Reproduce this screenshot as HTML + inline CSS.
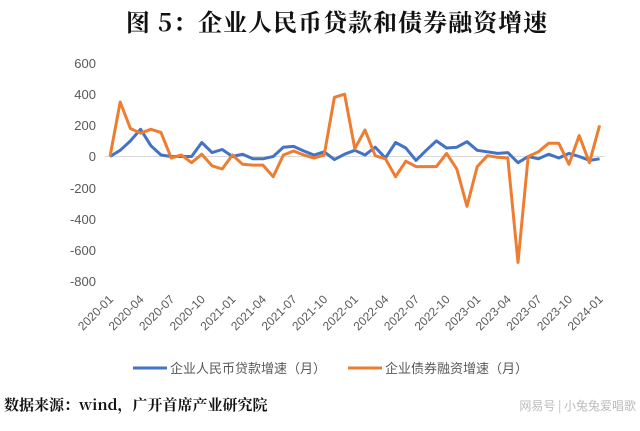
<!DOCTYPE html>
<html><head><meta charset="utf-8"><style>
body{margin:0;background:#fff;width:640px;height:426px;overflow:hidden}
</style></head><body>
<svg width="640" height="426" xmlns="http://www.w3.org/2000/svg">
<text x="337" y="31" text-anchor="middle" font-family="'Noto Serif CJK SC',serif" font-weight="bold" font-size="24" letter-spacing="1" fill="#111">图 5：企业人民币贷款和债券融资增速</text>
<g font-family="'Liberation Sans',sans-serif" font-size="13" fill="#595959" text-anchor="end">
<text x="96" y="68">600</text><text x="96" y="99">400</text><text x="96" y="130">200</text><text x="96" y="161">0</text><text x="96" y="193">-200</text><text x="96" y="224">-400</text><text x="96" y="255">-600</text><text x="96" y="286">-800</text>
</g>
<line x1="105" y1="156.5" x2="605" y2="156.5" stroke="#d9d9d9" stroke-width="1"/>
<polyline fill="none" stroke="#4472c4" stroke-width="3" stroke-linejoin="round" points="110,156.5 120.2,150.3 130.4,140.9 140.6,129.3 150.8,145.6 161,155 171.2,156.5 181.4,156.5 191.6,156.5 201.8,142.5 212,152.6 222.2,149.5 232.4,156.5 242.6,154.2 252.8,158.8 263,158.8 273.2,156.5 283.4,147.2 293.6,146.4 303.8,151 314,155 324.2,151.8 334.4,159.6 344.6,154.2 354.8,150.3 365,155 375.2,147.2 385.4,158 395.6,142.5 405.8,148 416,160.4 426.2,150.3 436.4,140.9 446.6,148 456.8,147.2 467,141.7 477.2,150.3 487.4,151.8 497.6,153.4 507.8,152.6 518,162.7 528.2,156.5 538.4,158.8 548.6,154.2 558.8,158 569,153.4 579.2,156.5 589.4,160.4 599.6,158.8"/>
<polyline fill="none" stroke="#ed7d31" stroke-width="3" stroke-linejoin="round" points="110,156.5 120.2,102 130.4,128.5 140.6,133.2 150.8,129.3 161,132.4 171.2,158 181.4,155 191.6,162.7 201.8,154.2 212,165.8 222.2,169 232.4,155 242.6,164.3 252.8,165.1 263,165.1 273.2,176.7 283.4,155 293.6,151 303.8,155 314,158 324.2,155 334.4,97.3 344.6,94.2 354.8,148.7 365,130 375.2,155.7 385.4,158.8 395.6,176.7 405.8,161.2 416,166.6 426.2,166.6 436.4,166.6 446.6,153.4 456.8,169 467,206.3 477.2,166.6 487.4,155.7 497.6,157.3 507.8,158 518,262.4 528.2,156.5 538.4,151.8 548.6,143.3 558.8,143.3 569,164.3 579.2,135.5 589.4,162.7 599.6,125.4"/>
<g font-family="'Liberation Sans',sans-serif" font-size="12" fill="#595959" text-anchor="end">
<text transform="translate(114,300) rotate(-45)">2020-01</text>
<text transform="translate(144.6,300) rotate(-45)">2020-04</text>
<text transform="translate(175.2,300) rotate(-45)">2020-07</text>
<text transform="translate(205.8,300) rotate(-45)">2020-10</text>
<text transform="translate(236.4,300) rotate(-45)">2021-01</text>
<text transform="translate(267,300) rotate(-45)">2021-04</text>
<text transform="translate(297.6,300) rotate(-45)">2021-07</text>
<text transform="translate(328.2,300) rotate(-45)">2021-10</text>
<text transform="translate(358.8,300) rotate(-45)">2022-01</text>
<text transform="translate(389.4,300) rotate(-45)">2022-04</text>
<text transform="translate(420,300) rotate(-45)">2022-07</text>
<text transform="translate(450.6,300) rotate(-45)">2022-10</text>
<text transform="translate(481.2,300) rotate(-45)">2023-01</text>
<text transform="translate(511.8,300) rotate(-45)">2023-04</text>
<text transform="translate(542.4,300) rotate(-45)">2023-07</text>
<text transform="translate(573,300) rotate(-45)">2023-10</text>
<text transform="translate(603.6,300) rotate(-45)">2024-01</text>
</g>
<line x1="133" y1="368" x2="167" y2="368" stroke="#4472c4" stroke-width="3"/>
<line x1="348" y1="368" x2="382" y2="368" stroke="#ed7d31" stroke-width="3"/>
<g font-family="'Liberation Sans','Noto Sans CJK SC',sans-serif" font-size="13" fill="#595959">
<text x="170" y="373">企业人民币贷款增速（月）</text>
<text x="385" y="373">企业债券融资增速（月）</text>
</g>
<text x="4" y="410" font-family="'Noto Serif CJK SC',serif" font-weight="bold" font-size="15" fill="#111">数据来源：wind，广开首席产业研究院</text>
<text x="636" y="410" text-anchor="end" font-family="'Noto Sans CJK SC',sans-serif" font-size="12" fill="#bbb">网易号 | 小兔兔爱唱歌</text>
</svg>
</body></html>
